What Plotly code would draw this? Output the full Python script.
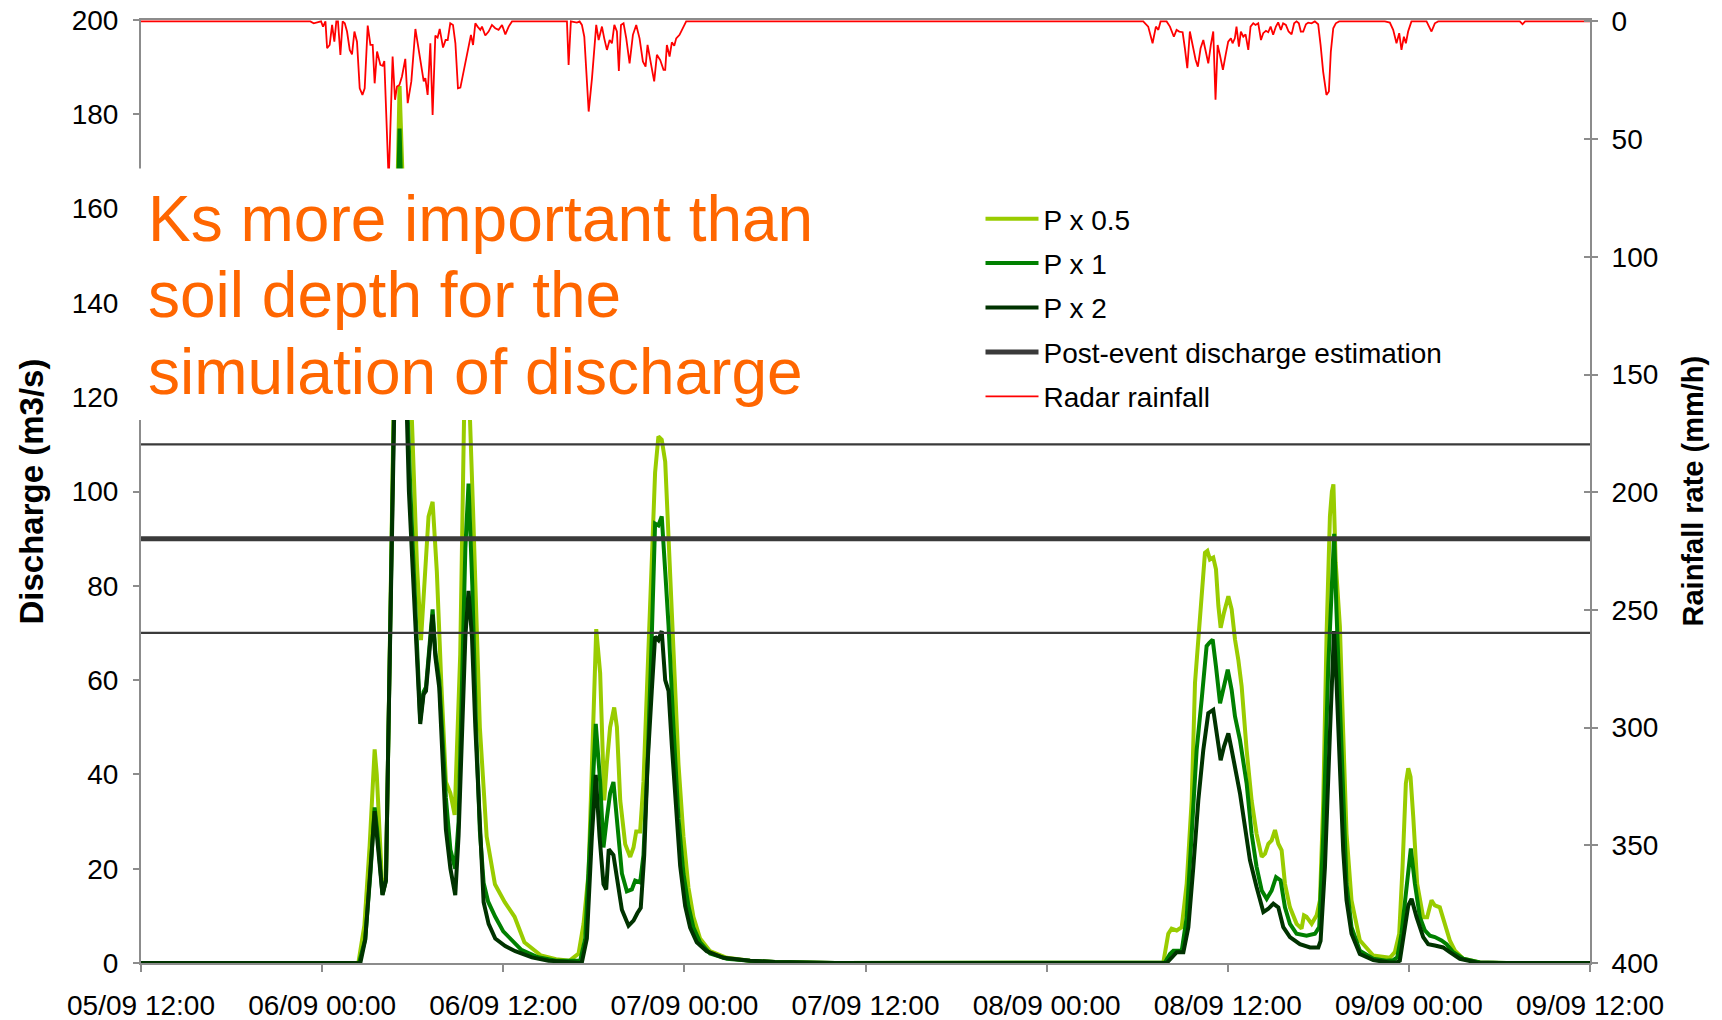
import pandas as pd
import plotly.graph_objects as go

START = pd.Timestamp("2005-09-05 12:00")
END_H = 96

# ---------------- data (hours after 05/09 12:00) ----------------
p05_h = [0, 14.4, 14.8, 15.15, 15.48, 15.62, 16.0, 16.23, 16.4, 16.63, 16.9, 17.13, 17.35, 17.7, 17.95,
         18.28, 18.55, 18.75, 19.05, 19.32, 19.6, 19.9, 20.2, 20.5, 20.78, 21.15, 21.4, 21.6, 21.8, 22.0,
         22.45, 22.9, 23.45, 24.1, 24.75, 25.4, 26.5, 27.5, 28.4, 28.99, 29.32, 29.65, 29.94, 30.16, 30.42,
         30.69, 30.86, 31.08, 31.35, 31.53, 31.75, 32.08, 32.41, 32.63, 32.81, 33.07, 33.29, 33.51, 33.84,
         34.06, 34.28, 34.5, 34.73, 34.95, 35.28, 35.61, 35.94, 36.27, 36.6, 37.04, 37.7, 38.81, 40.35, 42,
         46, 67.73, 68.06, 68.28, 68.62, 68.95, 69.28, 69.61, 69.83, 70.16, 70.49, 70.65, 70.82, 71.04,
         71.22, 71.38, 71.53, 71.75, 72.04, 72.26, 72.48, 72.7, 72.92, 73.25, 73.58, 73.91, 74.25, 74.47,
         74.69, 74.91, 75.13, 75.35, 75.57, 75.79, 76.12, 76.56, 76.89, 77.05, 77.22, 77.56, 77.89, 78.11,
         78.33, 78.55, 78.77, 78.9, 79.0, 79.15, 79.43, 79.65, 79.87, 80.2, 80.75, 81.64, 82.74, 83.07,
         83.36, 83.58, 83.8, 83.96, 84.11, 84.29, 84.55, 84.95, 85.21, 85.5, 85.72, 86.05, 86.38, 86.71,
         87.05, 87.6, 88.7, 90.47, 96]
p05_q = [0, 0, 8, 25, 45.3, 40, 15, 18, 50, 100, 150, 186, 165, 130, 115,
         84.7, 68.5, 80, 94.7, 97.8, 83, 59, 38.4, 36, 31.4, 65.5, 115, 122, 115, 96,
         50, 26.8, 16.7, 12.9, 9.8, 4.4, 1.6, 0.8, 0.5, 2, 8.3, 19, 50, 70.8, 61.5,
         34.5, 42.2, 50, 54.2, 50, 34.5, 25.2, 22.5, 24.5, 27.9, 27.9, 38.4, 57.7, 88.5,
         104, 111.7, 111, 106.3, 90.1, 65.4, 42.2, 26.8, 16, 9.8, 5.2, 2.5, 1.1, 0.5, 0.2,
         0, 0.1, 6.2, 7.3, 6.9, 7.6, 16.8, 34.5, 59.4, 73.5, 87, 87.4, 85.6, 86,
         83.5, 75.7, 71.1, 74.3, 77.8, 75, 68.6, 64.3, 58.7, 45.2, 34.5, 27.4, 22.5, 23.2,
         25.3, 26, 28.2, 25.3, 23.9, 16.8, 11.8, 8.3, 7.3, 10.1, 9.8, 8.3, 10.1, 13.3,
         34.5, 70, 94.8, 100, 101.5, 85, 71.4, 48.7, 27.4, 13.3, 4.8, 1.6, 1.1, 2.3,
         6.2, 20.4, 38.1, 41.3, 39.5, 31, 16.8, 9.7, 9.7, 13.3, 12.2, 11.8, 8.3, 4.8,
         2.6, 0.9, 0.1, 0, 0]

p1_h = [0, 14.45, 14.85, 15.2, 15.48, 15.65, 16.0, 16.23, 16.4, 16.63, 16.9, 17.13, 17.35, 17.65, 17.85,
        18.1, 18.3, 18.5, 18.72, 18.88, 19.32, 19.5, 19.76, 20.0, 20.2, 20.5, 20.82, 21.04, 21.27, 21.49,
        21.7, 21.95, 22.2, 22.45, 22.7, 23.0, 23.47, 24.0, 25.2, 26.3, 27.5, 29.1, 29.43, 29.76, 30.13,
        30.42, 30.64, 30.86, 31.08, 31.3, 31.53, 31.86, 32.19, 32.52, 32.74, 33.07, 33.29, 33.56, 33.84,
        34.06, 34.28, 34.5, 34.73, 34.95, 35.28, 35.61, 35.94, 36.27, 36.6, 37.04, 37.7, 38.81, 40.35, 42,
        46, 67.84, 68.17, 68.4, 68.95, 69.28, 69.61, 69.94, 70.27, 70.6, 70.78, 71.0, 71.22, 71.49, 71.75,
        72.0, 72.26, 72.48, 72.81, 73.25, 73.58, 73.91, 74.25, 74.58, 74.91, 75.2, 75.5, 75.79, 76.12,
        76.56, 77.22, 77.78, 78.06, 78.33, 78.66, 78.99, 79.05, 79.2, 79.43, 79.65, 79.87, 80.2, 80.75,
        81.64, 82.5, 82.96, 83.23, 83.51, 83.85, 84.13, 84.4, 84.73, 85.06, 85.39, 85.72, 86.16, 86.5,
        86.94, 87.6, 88.7, 90.5, 96]
p1_q = [0, 0, 5, 19, 33, 28, 14.5, 17.5, 50, 98, 145, 177, 150, 118, 100,
        80, 65, 51.5, 57.5, 58.5, 75, 66, 60, 45, 35, 24, 20, 30, 60, 88,
        101.7, 80, 50, 28, 17, 13, 9.8, 6.7, 2.8, 1.2, 0.5, 0.5, 5.2, 26.8, 50.7,
        38.4, 24.5, 30.6, 36, 38.4, 30.6, 19, 15.2, 15.6, 17.5, 17.1, 22.9, 42.2, 69.2,
        93.2, 92.8, 94.7, 83.1, 71.6, 50, 30.6, 19, 12.1, 7.5, 4.4, 2, 0.9, 0.5, 0.2,
        0, 0.1, 1.9, 2.6, 2.6, 9.7, 27.4, 45.2, 55.8, 67.2, 67.9, 68.6, 62.9, 55.1, 58.7,
        62.2, 57.9, 52.3, 47.3, 38.1, 27.4, 20.4, 15.4, 13.6, 15.4, 18.2, 17.5, 11.8, 8.3,
        6.2, 5.8, 6.2, 7.6, 27.4, 62.9, 90, 91, 75, 55.8, 34.5, 16.8, 7.6, 2.6,
        0.9, 0.5, 0.6, 1.2, 6.2, 16.8, 24.3, 16.8, 9.7, 6.9, 5.8, 5.5, 4.8, 4,
        2.3, 0.9, 0.1, 0, 0]

p2_h = [0, 14.53, 14.86, 15.2, 15.48, 16.0, 16.23, 16.4, 16.63, 16.85, 17.1, 17.35, 17.62, 17.75, 18.06,
        18.28, 18.5, 18.72, 18.88, 19.32, 19.5, 19.76, 19.99, 20.2, 20.5, 20.82, 21.04, 21.27, 21.49, 21.7,
        21.93, 22.15, 22.41, 22.7, 23.03, 23.47, 24.13, 24.8, 25.9, 27.0, 29.2, 29.54, 29.87, 30.13, 30.38,
        30.64, 30.82, 30.99, 31.3, 31.53, 31.86, 32.3, 32.63, 32.89, 33.11, 33.34, 33.56, 33.84, 34.06,
        34.28, 34.5, 34.73, 34.95, 35.17, 35.39, 35.72, 36.05, 36.38, 36.82, 37.48, 38.59, 40.35, 42, 46,
        67.95, 68.28, 68.62, 69.06, 69.39, 69.72, 70.05, 70.38, 70.71, 71.04, 71.26, 71.53, 71.75, 72.04,
        72.26, 72.55, 72.81, 73.14, 73.47, 73.91, 74.36, 74.69, 75.02, 75.35, 75.68, 76.12, 76.78, 77.45,
        78.0, 78.15, 78.44, 78.77, 79.04, 79.2, 79.43, 79.65, 79.87, 80.2, 80.75, 81.64, 82.74, 83.18,
        83.4, 83.67, 83.96, 84.18, 84.51, 84.95, 85.28, 85.72, 86.27, 86.71, 87.38, 88.48, 90, 96]
p2_q = [0, 0, 5, 19, 32.2, 14.4, 17.5, 50, 96, 130, 160, 140, 115.6, 100, 80.8,
        65, 50.7, 57, 57.7, 73.9, 65, 58.4, 42, 28.3, 20, 14.4, 27, 50, 69.2, 78.9,
        69, 50, 30.6, 12.9, 8.3, 5.2, 3.6, 2.5, 1.2, 0.5, 0, 5.2, 26.8, 39.9, 26.8,
        16.7, 15.6, 24.1, 22.9, 17.5, 11.3, 7.9, 9, 10.6, 11.7, 22.9, 42.2, 57.7, 69.2,
        68.5, 70.4, 60, 57.7, 46.1, 34.5, 20.6, 12.1, 7.5, 4.4, 2.5, 1.1, 0.5, 0.2, 0,
        0, 1.2, 2.3, 2.3, 7.6, 20.4, 34.5, 45.2, 53, 53.7, 48.7, 43, 45.9, 48.7,
        45.2, 40.2, 36, 28.9, 21.8, 16.1, 10.8, 11.5, 12.6, 11.8, 7.6, 5.5, 4, 3.3,
        3.3, 4.7, 20.4, 48.7, 70.4, 60, 41.6, 23.9, 13.3, 6.2, 1.9, 0.6, 0.1, 0.1,
        0.5, 6.2, 12.2, 13.6, 9.7, 5.5, 4, 3.7, 3.3, 2.3, 0.9, 0.1, 0, 0]

# post-event discharge estimation (central value and range)
est_h = [0, 96]
est_mid = [90, 90]
est_low = [70, 70]
est_high = [110, 110]

rain_h = [0, 11.22, 11.44, 11.66, 11.93, 12.06, 12.22, 12.33, 12.5, 12.66, 12.81, 12.94, 13.05, 13.21, 13.36,
          13.5, 13.65, 13.83, 13.98, 14.14, 14.31, 14.49, 14.67, 14.82, 15.02, 15.2, 15.35, 15.48, 15.64,
          15.86, 16.01, 16.12, 16.23, 16.41, 16.67, 16.83, 16.96, 17.12, 17.29, 17.51, 17.67, 17.91, 18.18,
          18.4, 18.62, 18.73, 18.84, 18.99, 19.17, 19.32, 19.5, 19.65, 19.79, 20.01, 20.18, 20.32, 20.49,
          20.67, 20.83, 21.0, 21.16, 21.33, 21.49, 21.71, 21.86, 22.0, 22.15, 22.3, 22.48, 22.59, 22.81,
          23.03, 23.25, 23.47, 23.69, 23.92, 24.14, 24.36, 24.58,
          28.22, 28.33, 28.48, 28.88, 29.06, 29.21, 29.37, 29.5, 29.66, 29.88, 30.03, 30.16, 30.32, 30.54,
          30.69, 30.87, 31.05, 31.2, 31.36, 31.53, 31.66, 31.8, 31.97, 32.15, 32.37, 32.59, 32.81, 33.03,
          33.25, 33.43, 33.56, 33.74, 33.92, 34.0, 34.18, 34.4, 34.62, 34.73, 34.84, 35.02, 35.17, 35.33,
          35.46, 35.68, 35.9, 36.12,
          66.4, 66.73, 67.02, 67.24, 67.4, 67.55, 67.95, 68.17, 68.43, 68.61, 68.79, 69.01, 69.16, 69.32,
          69.49, 69.71, 69.87, 70.02, 70.2, 70.38, 70.55, 70.71, 70.88, 71.04, 71.19, 71.33, 71.48, 71.68,
          71.86, 72.03, 72.21, 72.32, 72.47, 72.58, 72.74, 72.87, 73.03, 73.18, 73.36, 73.51, 73.69, 73.84,
          74.02, 74.2, 74.35, 74.53, 74.68, 74.84, 75.01, 75.19, 75.34, 75.52, 75.67, 75.85, 76.03, 76.23,
          76.4, 76.56, 76.71, 76.84, 77.0, 77.18, 77.33, 77.55, 77.77, 77.99, 78.15, 78.32, 78.54, 78.7,
          78.83, 78.99, 79.16, 79.38, 82.41, 82.74, 82.96, 83.18, 83.36, 83.51, 83.67, 83.8, 83.95, 84.17,
          85.17, 85.5, 85.72, 85.94, 91.35, 91.53, 91.7, 96]
rain_r = [0, 0, 0.8, 0.5, 0, 2.2, 0, 11.4, 10, 1.5, 8.6, 0, 0, 14.2, 0,
          0.8, 4.3, 12.1, 14, 4.3, 8.6, 28.4, 31.2, 28.4, 1.8, 10, 10, 26.3, 12.8,
          18.5, 18.9, 16.8, 38.3, 68, 14.9, 33.3, 27.7, 27, 23.4, 15.9, 34.7, 25.5, 3.2,
          11.4, 19.9, 25.5, 24.1, 31.2, 9.3, 39.7, 6, 6.9, 3.2, 11.1, 7.9, 7.9, 0.8,
          1.5, 9.3, 28.4, 28.1, 22.4, 18.5, 10, 5.7, 10, 0.8, 2.2, 3.6, 2.2, 6,
          4.3, 1.5, 2.9, 3.6, 1.5, 5.5, 2.2, 0,
          0, 18.5, 0, 0.5, 0, 1.5, 6.5, 21.3, 38.3, 24.1, 10, 1.5, 7.9, 2.2,
          7.2, 12.1, 7.9, 9.3, 1.5, 4.3, 21, 1.5, 0.8, 7.2, 17.8, 5.7, 1.5, 7.2,
          17, 19.2, 10, 15.6, 22.7, 25.5, 14.2, 16.4, 20.6, 20.6, 10, 14.9, 8.9, 10.3,
          7.2, 5.7, 2.9, 0,
          0, 2.2, 9.3, 2.2, 3.6, 0, 0, 2.2, 6.5, 3.6, 4.3, 4.6, 11.4, 19.9,
          4.3, 11.4, 16.3, 19.2, 11.4, 7.9, 12.8, 17.8, 10, 4.3, 33.3, 10, 14.2, 20.6,
          14.2, 8.6, 7.2, 9.3, 7.2, 2.2, 10.7, 4.3, 6.5, 5.5, 12.1, 2.2, 0.8, 1.5,
          0.8, 7.9, 5, 4, 4.6, 2.2, 5.7, 2.2, 0.4, 3.6, 0.8, 1.5, 4.3, 5.5,
          0.8, 0, 0.8, 4.3, 4.3, 1.2, 0.5, 0.8, 0, 1.2, 10, 21.3, 31.2, 29.8,
          12.8, 2.9, 0.8, 0, 0, 0.5, 3.6, 9.3, 5, 12.1, 6.5, 9.3, 4.3, 0,
          0, 4.3, 0.8, 0, 0, 1.2, 0, 0]

x_tick_step_h = 12
rain_ticks = [0, 50, 100, 150, 200, 250, 300, 350, 400]
title_lines = ["Ks more important than", "soil depth for the", "simulation of discharge"]


def t(hours):
    return [START + pd.Timedelta(hours=h) for h in hours]


FONT = "Liberation Sans, Arial, sans-serif"
C_LIGHT = "#99CC00"
C_MID = "#008000"
C_DARK = "#003300"
C_EST = "#3A3A3A"
AX = "#8C8C8C"

fig = go.Figure()
fig.add_trace(go.Scatter(x=t(p05_h), y=p05_q, mode="lines", name="P x 0.5", legendgroup="a",
                         line=dict(color=C_LIGHT, width=4)))
fig.add_trace(go.Scatter(x=t(p1_h), y=p1_q, mode="lines", name="P x 1", legendgroup="b",
                         line=dict(color=C_MID, width=4)))
fig.add_trace(go.Scatter(x=t(p2_h), y=p2_q, mode="lines", name="P x 2", legendgroup="c",
                         line=dict(color=C_DARK, width=4)))
fig.add_trace(go.Scatter(x=t(est_h), y=est_mid, mode="lines", name="Post-event discharge estimation",
                         legendgroup="d", line=dict(color=C_EST, width=5)))
fig.add_trace(go.Scatter(x=t(est_h), y=est_low, mode="lines", showlegend=False, legendgroup="d",
                         line=dict(color=C_EST, width=2.2)))
fig.add_trace(go.Scatter(x=t(est_h), y=est_high, mode="lines", showlegend=False, legendgroup="d",
                         line=dict(color=C_EST, width=2.2)))
fig.add_trace(go.Scatter(x=t(rain_h), y=rain_r, mode="lines", name="Radar rainfall", legendgroup="e",
                         yaxis="y2", line=dict(color="#FF0000", width=1.8)))
# helper axis for the inner half of the crossing ticks on the right axis
fig.add_trace(go.Scatter(x=[], y=[], yaxis="y3", showlegend=False, hoverinfo="skip"))

W, H = 1722, 1020
L, R, T, B = 141, 132, 20, 57
pw = W - L - R
ph = H - T - B


def px_x(px):
    return (px - L) / pw


def px_y(py):
    return (H - B - py) / ph


fig.update_layout(
    width=W, height=H,
    margin=dict(l=L, r=R, t=T, b=B),
    paper_bgcolor="white", plot_bgcolor="white",
    font=dict(family=FONT, size=28, color="black"),
    showlegend=True,
    legend=dict(x=px_x(980.5), y=px_y(194), xanchor="left", yanchor="top",
                font=dict(size=28, family=FONT, color="black"),
                bgcolor="rgba(0,0,0,0)", tracegroupgap=5, itemwidth=53,
                traceorder="grouped"),
    xaxis=dict(
        type="date", automargin=False,
        range=[START, START + pd.Timedelta(hours=END_H)],
        tick0=START, dtick=x_tick_step_h * 3600 * 1000,
        tickformat="%d/%m %H:%M",
        ticks="outside", ticklen=7, tickwidth=1.5, tickcolor=AX,
        showline=True, linecolor=AX, linewidth=2, mirror=True,
        showgrid=False, zeroline=False,
        tickfont=dict(size=28, family=FONT, color="black"),
        ticklabelstandoff=9,
    ),
    yaxis=dict(
        range=[0, 200], dtick=20, automargin=False,
        ticks="outside", ticklen=6, tickwidth=1.5, tickcolor=AX,
        showline=True, linecolor=AX, linewidth=2,
        showgrid=False, zeroline=False,
        tickfont=dict(size=28, family=FONT, color="black"),
        ticklabelstandoff=9,
    ),
    yaxis2=dict(
        overlaying="y", side="right", anchor="x", automargin=False,
        range=[400, -0.6], tickvals=rain_ticks,
        ticks="outside", ticklen=6, tickwidth=1.5, tickcolor=AX,
        showline=True, linecolor=AX, linewidth=2,
        showgrid=False, zeroline=False,
        tickfont=dict(size=28, family=FONT, color="black"),
        ticklabelstandoff=8,
    ),
    yaxis3=dict(
        overlaying="y", side="right", anchor="x", automargin=False,
        range=[400, -0.6], tickvals=rain_ticks,
        ticks="inside", ticklen=6, tickwidth=1.5, tickcolor=AX,
        showticklabels=False, showline=False, showgrid=False, zeroline=False,
    ),
)

# white box behind the statement text (hides what lies underneath, like the original)
fig.add_shape(type="rect", xref="paper", yref="paper",
              x0=px_x(132), x1=px_x(820), y0=px_y(420), y1=px_y(168.5),
              fillcolor="white", line=dict(width=0), layer="above")

line_centers = [219.2, 295.2, 371.8]
for txt, cy in zip(title_lines, line_centers):
    fig.add_annotation(text=txt, xref="paper", yref="paper", x=px_x(146), y=px_y(cy),
                       xanchor="left", yanchor="middle", showarrow=False,
                       font=dict(size=64, family=FONT, color="#FF6600"))

fig.add_annotation(text="<b>Discharge (m3/s)</b>", xref="paper", yref="paper",
                   x=px_x(31), y=0.5, xanchor="center", yanchor="middle", textangle=-90,
                   showarrow=False, font=dict(size=33, family=FONT, color="black"))
fig.add_annotation(text="<b>Rainfall rate (mm/h)</b>", xref="paper", yref="paper",
                   x=px_x(1692), y=0.5, xanchor="center", yanchor="middle", textangle=-90,
                   showarrow=False, font=dict(size=29, family=FONT, color="black"))

fig.write_html("out.html")
